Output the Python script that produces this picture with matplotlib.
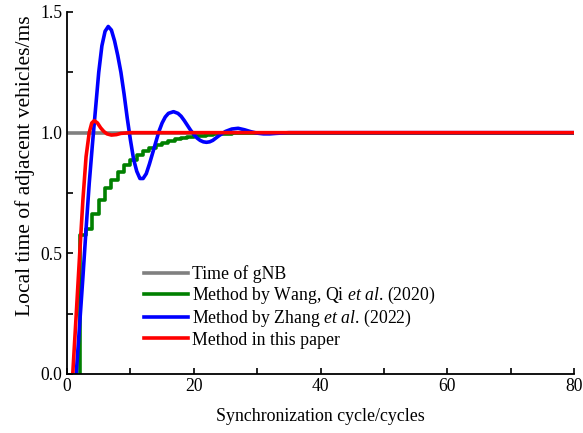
import matplotlib
matplotlib.use('Agg')
from matplotlib import pyplot as plt
from matplotlib.ticker import MultipleLocator, FormatStrFormatter

plt.rcParams['font.family'] = ['Liberation Serif', 'DejaVu Serif']
plt.rcParams['mathtext.fontset'] = 'custom'
plt.rcParams['mathtext.rm'] = 'Liberation Serif'
plt.rcParams['mathtext.it'] = 'Liberation Serif:italic'

# time of gNB (reference)
gnb_x = [0, 80]
gnb_y = [1.0, 1.0]

# Wang, Qi et al. (2020) - one step per cycle
wang_x = [2, 2, 3, 4, 5, 6, 7, 8, 9, 10, 11, 12, 13, 14, 15, 16, 17, 18, 19, 20,
          21, 22, 23, 24, 25, 26, 27, 28, 29, 30, 80]
wang_y = [0.0, 0.575, 0.60, 0.665, 0.72, 0.77, 0.805, 0.838, 0.865, 0.887, 0.906,
          0.922, 0.936, 0.948, 0.957, 0.965, 0.972, 0.977, 0.981, 0.985, 0.988,
          0.991, 0.993, 0.995, 0.996, 0.997, 0.998, 0.999, 1.0, 1.0, 1.0]

# Zhang et al. (2022)
zhang_x = [1.45, 2.0, 2.5, 3.0, 3.5, 4.0, 4.5, 5.0, 5.5, 6.0, 6.5, 7.0, 7.5, 8.0, 8.5,
           9.0, 9.5, 10.0, 10.5, 11.0, 11.5, 12.0, 12.5, 13.0, 13.5, 14.0, 14.5,
           15.0, 15.5, 16.0, 16.8, 17.5, 18.0, 18.5, 19.0, 19.5, 20.0, 20.5, 21.0,
           21.5, 22.0, 22.5, 23.0, 24.0, 25.0, 26.0, 27.0, 28.0, 29.0, 30.0, 31.0,
           32.0, 33.0, 35.0, 80.0]
zhang_y = [0.0, 0.21, 0.40, 0.60, 0.79, 0.95, 1.10, 1.25, 1.36, 1.42, 1.44, 1.425,
           1.38, 1.32, 1.25, 1.16, 1.06, 0.97, 0.89, 0.84, 0.81, 0.81, 0.83, 0.87,
           0.915, 0.96, 1.005, 1.04, 1.065, 1.08, 1.087, 1.08, 1.068, 1.05, 1.03,
           1.01, 0.993, 0.978, 0.968, 0.962, 0.96, 0.962, 0.968, 0.988, 1.005,
           1.015, 1.018, 1.012, 1.004, 0.998, 0.995, 0.995, 0.997, 1.0, 1.0]

# this paper
ours_x = [0.9, 1.5, 2.0, 2.5, 3.0, 3.5, 3.9, 4.3, 4.8, 5.3, 5.8, 6.3, 7.0, 7.8, 8.5,
          10.0, 80.0]
ours_y = [0.0, 0.27, 0.50, 0.72, 0.90, 1.0, 1.04, 1.05, 1.04, 1.02, 1.005, 0.995,
          0.99, 0.992, 0.997, 1.0, 1.0]

labels = ['Time of gNB',
          r'Method by Wang, Qi $\it{et\ al}$. (2020)',
          r'Method by Zhang $\it{et\ al}$. (2022)',
          'Method in this paper']

fig = plt.figure(figsize=(5.83, 4.33), dpi=100)
ax = fig.add_axes([0.115, 0.1363, 0.8696, 0.836])

lw = 2.6
ax.plot(gnb_x, gnb_y, color='#808080', lw=lw, label=labels[0])
ax.plot(wang_x, wang_y, color='#008000', lw=lw, drawstyle='steps-post', label=labels[1])
ax.plot(zhang_x, zhang_y, color='#0000ff', lw=lw, label=labels[2])
ax.plot(ours_x, ours_y, color='#ff0000', lw=lw, label=labels[3])

ax.set_xlim(0, 80)
ax.set_ylim(0, 1.5)
ax.xaxis.set_major_locator(MultipleLocator(20))
ax.xaxis.set_minor_locator(MultipleLocator(10))
ax.yaxis.set_major_locator(MultipleLocator(0.5))
ax.yaxis.set_minor_locator(MultipleLocator(0.25))
ax.yaxis.set_major_formatter(FormatStrFormatter('%.1f'))
ax.spines['top'].set_visible(False)
ax.spines['right'].set_visible(False)
for s in ['left', 'bottom']:
    ax.spines[s].set_linewidth(1.3)
ax.tick_params(which='both', direction='in', length=4, width=1.2, labelsize=12.7)
ax.tick_params(axis='x', pad=3)

ax.set_xlabel('Synchronization cycle/cycles', fontsize=12.9)
ax.set_ylabel('Local time of adjacent vehicles/ms', fontsize=15.5)
ax.xaxis.set_label_coords(0.5, -0.093)
ax.yaxis.set_label_coords(-0.063, 0.575)

leg = ax.legend(loc='upper left', bbox_to_anchor=(144 / 583, 1 - 265 / 433),
                bbox_transform=fig.transFigure, frameon=False, fontsize=12.8,
                handlelength=2.5, handletextpad=0.2, labelspacing=0.12,
                borderpad=0, borderaxespad=0)

fig.savefig('out.png', dpi=100)
